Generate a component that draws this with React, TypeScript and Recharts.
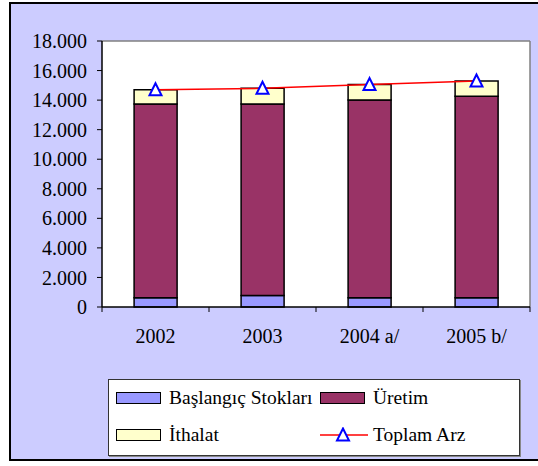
import React from "react";
import { ComposedChart, Bar, Line, XAxis, YAxis, CartesianGrid, Legend } from "recharts";

const years = ["2002", "2003", "2004 a/", "2005 b/"];
const baslangicStoklari = [630, 780, 630, 630];
const uretim = [13110, 12960, 13380, 13630];
const ithalat = [960, 1060, 1040, 1030];
const toplamArz = [14700, 14800, 15050, 15290];
const yTicks = [0, 2000, 4000, 6000, 8000, 10000, 12000, 14000, 16000, 18000];
const seriesNames = ["Başlangıç Stokları", "Üretim", "İthalat", "Toplam Arz"];

const data = years.map((y, i) => ({
  year: y,
  stok: baslangicStoklari[i],
  uretim: uretim[i],
  ithalat: ithalat[i],
  toplam: toplamArz[i],
}));

const FONT = "'Liberation Serif', 'Times New Roman', serif";
const C_STOK = "#9999FF";
const C_URETIM = "#993366";
const C_ITHALAT = "#FFFFCC";

const fmt = (v: number) => (v === 0 ? "0" : v.toLocaleString("de-DE"));

const Triangle = (props: any) => {
  const { cx, cy } = props;
  if (cx == null || cy == null) return null;
  return (
    <path
      d={`M${cx},${cy - 6.5} L${cx - 6},${cy + 5.5} L${cx + 6},${cy + 5.5} Z`}
      fill="#FFFFFF"
      stroke="#0000FF"
      strokeWidth={2}
    />
  );
};

const XTick = (props: any) => {
  const { x, y, payload, index, visibleTicksCount, width } = props;
  const half = payload && payload.offset != null ? payload.offset : width / visibleTicksCount / 2;
  return (
    <g>
      <line x1={x - half} y1={y} x2={x - half} y2={y + 5} stroke="#000" strokeWidth={1} />
      {index === visibleTicksCount - 1 && (
        <line x1={x + half} y1={y} x2={x + half} y2={y + 5} stroke="#000" strokeWidth={1} />
      )}
      <text x={x} y={y + 36} textAnchor="middle" style={{ fontFamily: FONT }} fontSize={20} fill="#000">
        {payload.value}
      </text>
    </g>
  );
};

const Swatch = ({ color }: { color: string }) => (
  <div
    style={{
      width: 45,
      height: 12,
      background: color,
      border: "1.5px solid #000",
      boxSizing: "border-box",
    }}
  />
);

const LegendBox = () => {
  const item = (left: number, top: number, icon: React.ReactNode, label: string) => (
    <div
      style={{
        position: "absolute",
        left,
        top,
        height: 24,
        display: "flex",
        alignItems: "center",
        whiteSpace: "nowrap",
      }}
    >
      <div style={{ width: 49, display: "flex", alignItems: "center" }}>{icon}</div>
      <span style={{ marginLeft: 4, fontFamily: FONT, fontSize: 19.5, color: "#000", lineHeight: "24px" }}>
        {label}
      </span>
    </div>
  );
  const lineIcon = (
    <svg width={49} height={16}>
      <line x1={0} y1={8} x2={48} y2={8} stroke="#FF0000" strokeWidth={1.5} />
      <Triangle cx={23} cy={8} />
    </svg>
  );
  return (
    <div
      style={{
        position: "relative",
        width: 412,
        height: 77,
        background: "#fff",
        border: "1px solid #333",
        boxShadow: "1px 1px 0 #888",
        boxSizing: "border-box",
      }}
    >
      {item(7, 6, <Swatch color={C_STOK} />, seriesNames[0])}
      {item(211, 6, <Swatch color={C_URETIM} />, seriesNames[1])}
      {item(7, 43, <Swatch color={C_ITHALAT} />, seriesNames[2])}
      {item(211, 43, lineIcon, seriesNames[3])}
    </div>
  );
};

export default function App() {
  return (
    <div style={{ position: "absolute", left: 0, top: 0, width: 538, height: 466, overflow: "hidden", fontFamily: FONT }}>
      <div
        style={{
          position: "absolute",
          left: 9,
          top: 2,
          width: 560,
          height: 459,
          background: "#CCCCFF",
          border: "2px solid #000",
          boxSizing: "border-box",
        }}
      />
      <div style={{ position: "absolute", left: 0, top: 0 }}>
        <ComposedChart
          width={538}
          height={466}
          data={data}
          margin={{ top: 41, right: 8, bottom: 119, left: 0 }}
          barCategoryGap="30%"
          style={{ fontFamily: FONT }}
        >
          <CartesianGrid
            fill="#FFFFFF"
            stroke="#808080"
            strokeWidth={1.5}
            horizontalCoordinatesGenerator={({ offset }: any) => [offset.top]}
            verticalCoordinatesGenerator={({ offset }: any) => [offset.left + offset.width]}
          />
          <XAxis
            dataKey="year"
            height={40}
            axisLine={{ stroke: "#000", strokeWidth: 1.5 }}
            tickLine={false}
            tickSize={0}
            tickMargin={0}
            tick={<XTick />}
            interval={0}
          />
          <YAxis
            width={102}
            domain={[0, 18000]}
            ticks={yTicks}
            tickFormatter={fmt}
            axisLine={{ stroke: "#000", strokeWidth: 1.5 }}
            tickLine={{ stroke: "#000" }}
            tickSize={5}
            tickMargin={10}
            tick={{ fill: "#000", fontFamily: FONT, fontSize: 20, style: { fontFamily: FONT } }}
            interval={0}
          />
          <Bar dataKey="stok" stackId="a" fill={C_STOK} stroke="#000" strokeWidth={1.5} isAnimationActive={false} />
          <Bar dataKey="uretim" stackId="a" fill={C_URETIM} stroke="#000" strokeWidth={1.5} isAnimationActive={false} />
          <Bar dataKey="ithalat" stackId="a" fill={C_ITHALAT} stroke="#000" strokeWidth={1.5} isAnimationActive={false} />
          <Line
            dataKey="toplam"
            stroke="#FF0000"
            strokeWidth={1.5}
            dot={<Triangle />}
            activeDot={false}
            isAnimationActive={false}
          />
          <Legend
            layout="horizontal"
            verticalAlign="middle"
            content={() => <LegendBox />}
            wrapperStyle={{ position: "absolute", left: 108, top: 379, width: 412, height: 77 }}
          />
        </ComposedChart>
      </div>
    </div>
  );
}
